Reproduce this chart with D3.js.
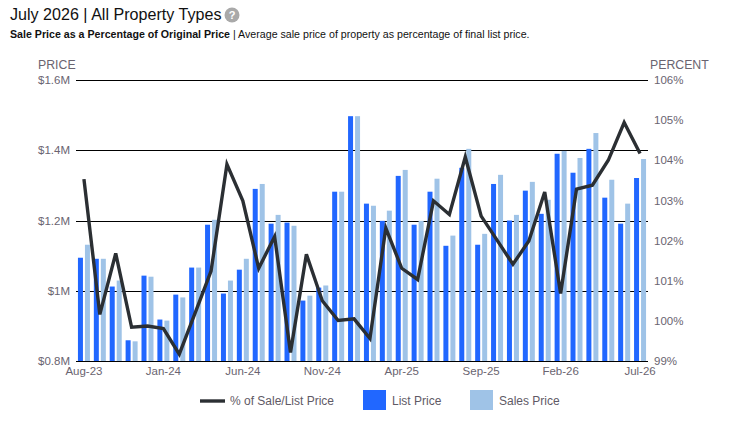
<!DOCTYPE html>
<html lang="en">
<head>
<meta charset="utf-8">
<title>Sale Price as a Percentage of Original Price</title>
<script src="https://d3js.org/d3.v7.min.js"></script>
<style>
  body { margin: 0; background: #fff; font-family: "Liberation Sans", Arial, sans-serif; }
  svg { display: block; }
  .tick text { font-size: 11.5px; fill: #6a6470; font-family: "Liberation Sans", Arial, sans-serif; }
  .axis-title { font-size: 12.3px; fill: #6a6470; }
  .legend-label { font-size: 12px; fill: #5f5a66; }
</style>
</head>
<body>
<div id="vis"></div>
<script>
const months = ["Aug-23","Sep-23","Oct-23","Nov-23","Dec-23","Jan-24","Feb-24","Mar-24","Apr-24","May-24","Jun-24","Jul-24",
  "Aug-24","Sep-24","Oct-24","Nov-24","Dec-24","Jan-25","Feb-25","Mar-25","Apr-25","May-25","Jun-25","Jul-25",
  "Aug-25","Sep-25","Oct-25","Nov-25","Dec-25","Jan-26","Feb-26","Mar-26","Apr-26","May-26","Jun-26","Jul-26"];
const listPrice = [1.094,1.091,1.012,0.859,1.043,0.918,0.989,1.066,1.188,0.992,1.060,1.290,
  1.191,1.194,0.972,1.009,1.282,1.497,1.248,1.199,1.327,1.188,1.282,1.128,
  1.350,1.131,1.304,1.200,1.285,1.219,1.390,1.336,1.404,1.265,1.191,1.321];
const salesPrice = [1.131,1.091,1.029,0.856,1.040,0.915,0.981,1.066,1.202,1.029,1.091,1.304,
  1.216,1.185,0.986,1.015,1.282,1.497,1.242,1.228,1.344,1.199,1.319,1.157,
  1.404,1.162,1.330,1.216,1.310,1.259,1.398,1.378,1.449,1.316,1.248,1.375];
const salePct = [103.53,100.16,101.68,99.84,99.87,99.81,99.17,100.2,101.24,103.90,102.99,101.31,
  102.10,99.21,101.66,100.50,100.01,100.05,99.56,102.31,101.31,101.03,102.99,102.65,
  104.08,102.61,102.01,101.41,101.99,103.21,100.68,103.28,103.38,104.00,104.94,104.17];
const xLabels = ["Aug-23","Jan-24","Jun-24","Nov-24","Apr-25","Sep-25","Feb-26","Jul-26"];
const priceTicks = [0.8,1,1.2,1.4,1.6];
const pctTicks = [99,100,101,102,103,104,105,106];
const seriesNames = ["List Price","Sales Price"];

const width = 747, height = 426;
const plotLeft = 76, plotRight = 648, plotTop = 80, plotBottom = 361;
const listColor = "#2167ff", salesColor = "#9fc3e7", lineColor = "#2b2f33";

const x = d3.scaleBand().domain(months).range([plotLeft, plotRight]).paddingInner(.245).paddingOuter(.1225);
const xSub = d3.scaleBand().domain(seriesNames).range([0, x.bandwidth()]).paddingInner(.286);
const yPrice = d3.scaleLinear().domain([0.8, 1.6]).range([plotBottom, plotTop]);
const yPct = d3.scaleLinear().domain([99, 106]).range([plotBottom, plotTop]);

const svg = d3.select("#vis").append("svg").attr("width", width).attr("height", height);

// header
svg.append("text").attr("x", 10).attr("y", 20).attr("font-size", 16.1).attr("fill", "#111")
  .text("July 2026 | All Property Types");
svg.append("circle").attr("cx", 232).attr("cy", 15).attr("r", 7.5).attr("fill", "#a9a9a9");
svg.append("text").attr("x", 232).attr("y", 19).attr("text-anchor", "middle")
  .attr("font-size", 11).attr("font-weight", "bold").attr("fill", "#fff").text("?");
const sub = svg.append("text").attr("x", 10).attr("y", 38).attr("font-size", 10.65).attr("fill", "#111");
sub.append("tspan").attr("font-weight", "bold").text("Sale Price as a Percentage of Original Price");
sub.append("tspan").text(" | Average sale price of property as percentage of final list price.");

// left axis carries the gridlines
const gridAxis = d3.axisLeft(yPrice).tickValues(priceTicks).tickSize(-(plotRight - plotLeft)).tickPadding(6)
  .tickFormat(d => "$" + d + "M");
const gLeft = svg.append("g").attr("transform", `translate(${plotLeft},0)`).call(gridAxis);
gLeft.select(".domain").remove();
gLeft.selectAll(".tick line").attr("stroke", "#000").attr("stroke-width", 1).attr("shape-rendering", "crispEdges");

// bars
const groups = svg.append("g").selectAll("g").data(months).enter().append("g")
  .attr("transform", d => `translate(${x(d)},0)`);
groups.append("rect").attr("class", "bars")
  .attr("x", xSub("List Price")).attr("width", xSub.bandwidth())
  .attr("y", (d, i) => yPrice(listPrice[i]))
  .attr("height", (d, i) => plotBottom - yPrice(listPrice[i]))
  .attr("fill", listColor);
groups.append("rect").attr("class", "bars")
  .attr("x", xSub("Sales Price")).attr("width", xSub.bandwidth())
  .attr("y", (d, i) => yPrice(salesPrice[i]))
  .attr("height", (d, i) => plotBottom - yPrice(salesPrice[i]))
  .attr("fill", salesColor);

// line
const line = d3.line().x((d, i) => x(months[i]) + x.bandwidth() / 2).y(d => yPct(d));
svg.append("path").datum(salePct).attr("d", line).attr("fill", "none")
  .attr("stroke", lineColor).attr("stroke-width", 3.4).attr("stroke-linejoin", "miter");

// right axis
const gRight = svg.append("g").attr("transform", `translate(${plotRight},0)`)
  .call(d3.axisRight(yPct).tickValues(pctTicks).tickSize(0).tickPadding(6).tickFormat(d => d + "%"));
gRight.select(".domain").remove();

// bottom axis
const gBottom = svg.append("g").attr("transform", `translate(0,${plotBottom})`)
  .call(d3.axisBottom(x).tickValues(xLabels).tickSize(0).tickPadding(6));
gBottom.select(".domain").remove();

svg.append("text").attr("class", "axis-title").attr("x", 38).attr("y", 69).text("PRICE");
svg.append("text").attr("class", "axis-title").attr("x", 650).attr("y", 69).text("PERCENT");

// legend
svg.append("line").attr("x1", 200).attr("x2", 225).attr("y1", 401).attr("y2", 401)
  .attr("stroke", lineColor).attr("stroke-width", 3.4);
svg.append("text").attr("class", "legend-label").attr("x", 230).attr("y", 405).text("% of Sale/List Price");
svg.append("rect").attr("x", 363).attr("y", 390).attr("width", 23).attr("height", 20).attr("fill", listColor);
svg.append("text").attr("class", "legend-label").attr("x", 392).attr("y", 405).text("List Price");
svg.append("rect").attr("x", 470).attr("y", 390).attr("width", 23).attr("height", 20).attr("fill", salesColor);
svg.append("text").attr("class", "legend-label").attr("x", 499).attr("y", 405).text("Sales Price");
</script>
</body>
</html>
